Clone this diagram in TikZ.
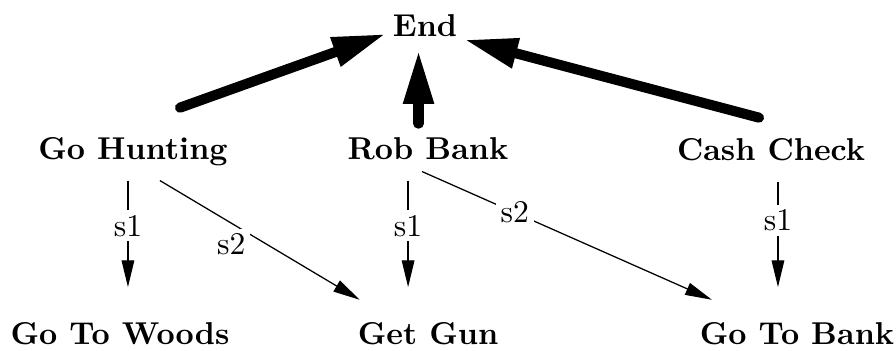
\documentclass[tikz,border=0pt]{standalone}
\usetikzlibrary{arrows.meta}
\begin{document}
\begin{tikzpicture}[x=0.3165pt, y=0.3165pt,
    act/.style={font=\bfseries, anchor=base, text height=7pt, text depth=2pt, inner sep=2pt},
    task/.style={act, outer ysep=2.5pt},
    goal/.style={act, outer ysep=5pt},
    heavy/.style={line width=3.2pt, line cap=round, -{Triangle[length=17pt, width=9pt]}},
    plan/.style={line width=0.4pt, -{Triangle[length=8.5pt, width=4pt]}},
    lbl/.style={fill=white, inner sep=1.5pt}]

    \useasboundingbox (0, 0) rectangle (896, 350);

    \node (end) [act] at (425, 313) {End};

    \node (gh) [task] at (133, 190) {Go Hunting};
    \node (rb) [task] at (428, 190) {Rob Bank};
    \node (cc) [task] at (771, 189) {Cash Check};

    \node (woods) [goal] at (120, 6) {Go To Woods};
    \node (gun) [goal] at (428, 6) {Get Gun};
    \node (bank) [goal] at (797, 6) {Go To Bank};

    % arrow ends off the node centres
    \coordinate (ghup) at ([shift={(47, 16)}]gh.north);
    \coordinate (rbup) at ([xshift=-3pt]rb.north);
    \coordinate (ccup) at ([shift={(-12, 7)}]cc.north);
    \coordinate (ghs1) at ([xshift=-1.6pt]gh.south);
    \coordinate (ghs2) at ([xshift=8.5pt]gh.south);
    \coordinate (rbs1) at ([xshift=-6.3pt]rb.south);
    \coordinate (rbs2) at ([shift={(-6, 9)}]rb.south);
    \coordinate (ccs1) at ([xshift=2.2pt]cc.south);

    \path[heavy]
    (ghup) edge (end.187)
    (rbup) edge (rbup |- end.south)
    (ccup) edge (end.-15);

    \path[plan]
    (ghs1) edge[shorten >=4pt] node[lbl, pos=0.38] {s1} (ghs1 |- woods.north)
    (ghs2) edge node[lbl, pos=0.4, anchor=north east, xshift=3.5pt] {s2} ([xshift=2.8pt]gun.north west)
    (rbs1) edge[shorten >=4pt] node[lbl, pos=0.38] {s1} (rbs1 |- gun.north)
    (rbs2) edge node[lbl, pos=0.32] {s2} ([xshift=6pt]bank.north west)
    (ccs1) edge[shorten >=4pt] node[lbl, pos=0.33] {s1} (ccs1 |- bank.north);

\end{tikzpicture}
\end{document}
